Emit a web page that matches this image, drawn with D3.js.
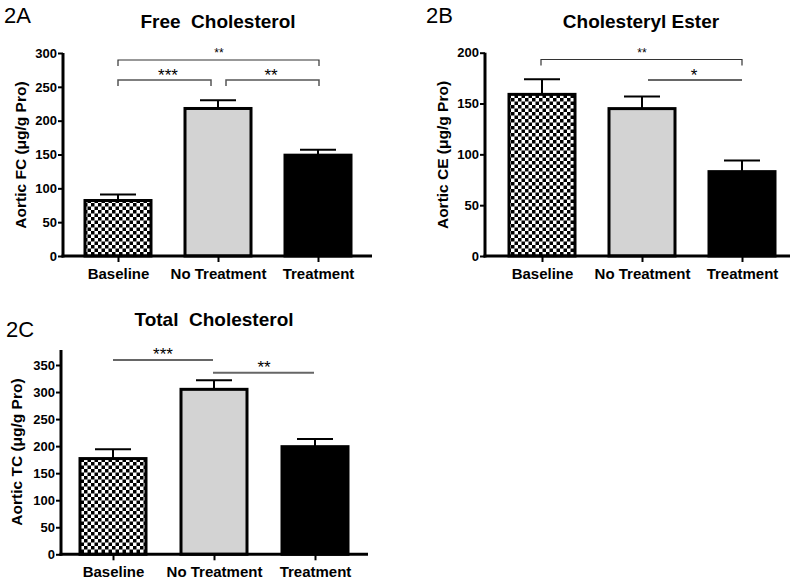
<!DOCTYPE html>
<html>
<head>
<meta charset="utf-8">
<script src="https://cdn.jsdelivr.net/npm/d3@7"></script>
<style>
  html, body { margin: 0; padding: 0; background: #fff; }
  svg { display: block; font-family: "Liberation Sans", Arial, sans-serif; }
</style>
</head>
<body>
<svg id="chart" width="800" height="580"></svg>
<script>
// ---- Data ----
const categories = ["Baseline", "No Treatment", "Treatment"];
const fcMean = [82, 218, 149];
const fcErr  = [9, 12, 8];
const ceMean = [159, 145, 83];
const ceErr  = [15, 12, 11];
const tcMean = [177, 305, 199];
const tcErr  = [17, 17, 14];
const fcTicks = [0, 50, 100, 150, 200, 250, 300];
const ceTicks = [0, 50, 100, 150, 200];
const tcTicks = [0, 50, 100, 150, 200, 250, 300, 350];

const svg = d3.select("#chart");
const defs = svg.append("defs");
const pat = defs.append("pattern").attr("id", "checker")
  .attr("patternUnits", "userSpaceOnUse").attr("width", 7).attr("height", 7);
pat.append("rect").attr("width", 7).attr("height", 7).attr("fill", "#fff");
pat.append("rect").attr("x", 0).attr("y", 0).attr("width", 3.5).attr("height", 3.5).attr("fill", "#000");
pat.append("rect").attr("x", 3.5).attr("y", 3.5).attr("width", 3.5).attr("height", 3.5).attr("fill", "#000");

const fills = ["url(#checker)", "#d3d3d3", "#000"];

function panel(cfg) {
  const g = svg.append("g");
  const y = d3.scaleLinear().domain([0, cfg.yMax]).range([cfg.y0, cfg.yTop]);
  const x = d3.scalePoint().domain(categories).range([cfg.c0, cfg.c2]);
  const bw = 66;

  g.append("text").attr("x", cfg.letterX).attr("y", cfg.letterY)
    .attr("font-size", 22).attr("fill", "#000").text(cfg.letter);
  g.append("text").attr("x", cfg.titleX).attr("y", cfg.titleY)
    .attr("text-anchor", "middle").attr("font-size", 19).attr("font-weight", "bold")
    .style("white-space", "pre").text(cfg.title);

  cfg.means.forEach((m, i) => {
    const cx = x(categories[i]);
    g.append("line").attr("x1", cx).attr("x2", cx)
      .attr("y1", y(m)).attr("y2", y(m + cfg.errs[i]))
      .attr("stroke", "#000").attr("stroke-width", 2);
    g.append("line").attr("x1", cx - 18).attr("x2", cx + 18)
      .attr("y1", y(m + cfg.errs[i])).attr("y2", y(m + cfg.errs[i]))
      .attr("stroke", "#000").attr("stroke-width", 2);
    g.append("rect").attr("x", cx - bw / 2).attr("y", y(m))
      .attr("width", bw).attr("height", y(0) - y(m))
      .attr("fill", fills[i]).attr("stroke", "#000").attr("stroke-width", 3);
  });

  const yAxis = d3.axisLeft(y).tickValues(cfg.ticks).tickSize(5).tickPadding(1).tickSizeOuter(0);
  const ya = g.append("g").attr("transform", `translate(${cfg.ax},0)`).call(yAxis);
  ya.select(".domain").attr("stroke", "#000").attr("stroke-width", 3)
    .attr("d", `M0,${cfg.y0 + 1.5}V${cfg.axisTop}`);
  ya.selectAll(".tick line").attr("stroke", "#000").attr("stroke-width", 2);
  ya.selectAll(".tick text").attr("font-size", 13).attr("font-weight", "bold")
    .attr("fill", "#000").attr("font-family", "Liberation Sans, Arial, sans-serif");

  const xAxis = d3.axisBottom(x).tickSize(6).tickPadding(6).tickSizeOuter(0);
  const xa = g.append("g").attr("transform", `translate(0,${cfg.y0})`).call(xAxis);
  xa.select(".domain").attr("stroke", "#000").attr("stroke-width", 3)
    .attr("d", `M${cfg.ax - 1.5},0H${cfg.axRight}`);
  xa.selectAll(".tick line").attr("stroke", "#000").attr("stroke-width", 2);
  xa.selectAll(".tick text").attr("font-size", 15).attr("font-weight", "bold")
    .attr("fill", "#000").attr("font-family", "Liberation Sans, Arial, sans-serif");

  g.append("text")
    .attr("transform", `translate(${cfg.labelX},${cfg.labelY}) rotate(-90)`)
    .attr("text-anchor", "middle").attr("font-size", 15.5).attr("font-weight", "bold")
    .text(cfg.ylabel);

  cfg.sig.forEach(s => {
    let d;
    if (s.ticks) d = `M${s.x1},${s.y + 6}V${s.y}H${s.x2}V${s.y + 6}`;
    else d = `M${s.x1},${s.y}H${s.x2}`;
    g.append("path").attr("d", d).attr("fill", "none")
      .attr("stroke", s.color).attr("stroke-width", s.w);
    g.append("text").attr("x", s.tx).attr("y", s.ty)
      .attr("text-anchor", "middle").attr("font-size", s.fs).attr("fill", "#000")
      .text(s.label);
  });
}

panel({
  letter: "2A", letterX: 4, letterY: 23,
  title: "Free  Cholesterol", titleX: 218, titleY: 28,
  means: fcMean, errs: fcErr, ticks: fcTicks, yMax: 300,
  y0: 256, yTop: 53, axisTop: 53, ax: 63, axRight: 372,
  c0: 118, c2: 318,
  ylabel: "Aortic FC (\u03bcg/g Pro)", labelX: 26, labelY: 155,
  sig: [
    { x1: 118, x2: 319, y: 60, ticks: true, color: "#333", w: 1.2, label: "**", tx: 219, ty: 57, fs: 12 },
    { x1: 118, x2: 211, y: 80, ticks: true, color: "#555", w: 1.5, label: "***", tx: 168, ty: 81, fs: 17 },
    { x1: 226, x2: 319, y: 80, ticks: true, color: "#555", w: 1.5, label: "**", tx: 271, ty: 81, fs: 17 }
  ]
});

panel({
  letter: "2B", letterX: 426, letterY: 23,
  title: "Cholesteryl Ester", titleX: 641, titleY: 28,
  means: ceMean, errs: ceErr, ticks: ceTicks, yMax: 200,
  y0: 256, yTop: 52.7, axisTop: 52.7, ax: 485, axRight: 790,
  c0: 542, c2: 742,
  ylabel: "Aortic CE (\u03bcg/g Pro)", labelX: 448, labelY: 155,
  sig: [
    { x1: 541, x2: 742, y: 59.5, ticks: true, color: "#333", w: 1.2, label: "**", tx: 642, ty: 57, fs: 12 },
    { x1: 648, x2: 742, y: 80, ticks: false, color: "#666", w: 2, label: "*", tx: 694, ty: 81, fs: 17 }
  ]
});

panel({
  letter: "2C", letterX: 6, letterY: 337,
  title: "Total  Cholesterol", titleX: 214, titleY: 326,
  means: tcMean, errs: tcErr, ticks: tcTicks, yMax: 350,
  y0: 554.3, yTop: 365, axisTop: 350, ax: 61, axRight: 368,
  c0: 113, c2: 315,
  ylabel: "Aortic TC (\u03bcg/g Pro)", labelX: 22, labelY: 452,
  sig: [
    { x1: 113, x2: 213, y: 360, ticks: false, color: "#666", w: 2, label: "***", tx: 163, ty: 360, fs: 17 },
    { x1: 213, x2: 314, y: 372.7, ticks: false, color: "#666", w: 2, label: "**", tx: 264, ty: 373, fs: 17 }
  ]
});
</script>
</body>
</html>
